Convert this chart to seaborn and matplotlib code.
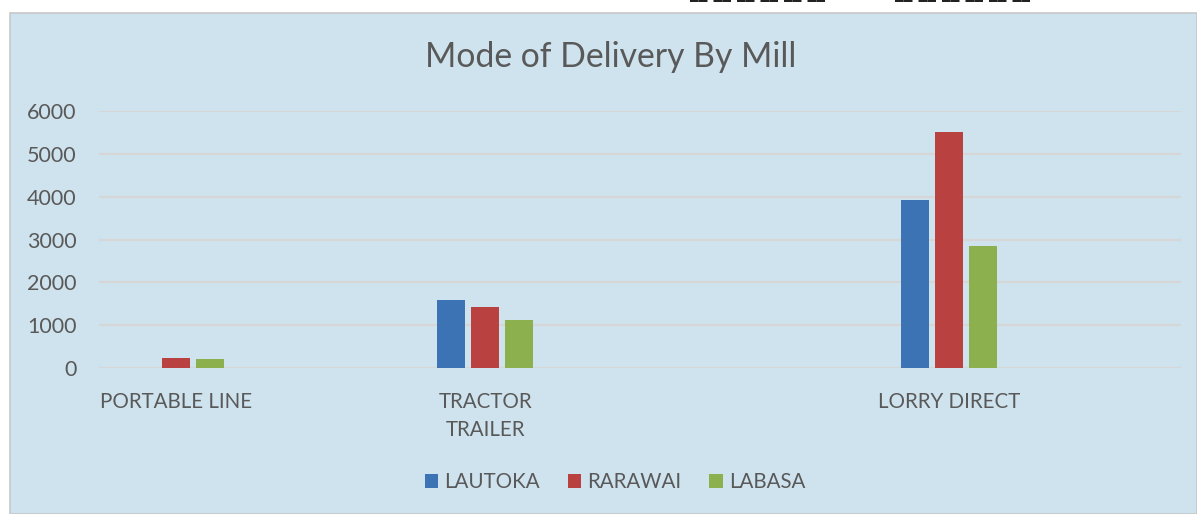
import pandas as pd
import matplotlib.pyplot as plt
import seaborn as sns
from matplotlib.patches import Rectangle

# categorias del grafico (los huecos son columnas vacias de la hoja original)
categorias = ["PORTABLE LINE", " ", "TRACTOR\nTRAILER", "  ", "   ", "LORRY DIRECT", "    "]
lautoka = [0, None, 1580, None, None, 3920, None]
rarawai = [230, None, 1430, None, None, 5500, None]
labasa = [220, None, 1110, None, None, 2850, None]
molinos = ["LAUTOKA", "RARAWAI", "LABASA"]
colores = ["#3b73b5", "#b9413f", "#8db04e"]
y_ticks = [0, 1000, 2000, 3000, 4000, 5000, 6000]

gris = "#595959"
fondo = "#cfe3ee"

# Tabla larga para seaborn
filas = []
for molino, valores in zip(molinos, [lautoka, rarawai, labasa]):
    for cat, v in zip(categorias, valores):
        filas.append({"categoria": cat, "molino": molino, "valor": v})
df = pd.DataFrame(filas)

sns.set_style("white")
plt.rcParams["font.family"] = ["Lato", "DejaVu Sans"]

fig = plt.figure(figsize=(11.97, 5.14), dpi=100)
fig.patch.set_facecolor("white")

# Area del grafico
fig.patches.append(Rectangle((10 / 1197, 0), 1 - 10 / 1197, 1 - 13 / 514,
                             transform=fig.transFigure, facecolor=fondo,
                             edgecolor="#c8c8c8", linewidth=1.2, zorder=-5))

# trozos de texto arriba (fuera del grafico)
raya = " ".join(["‾‾"] * 6)
for x0 in [690, 895]:
    fig.text(x0 / 1197, 1.0, raya, ha="left", va="top", fontsize=12.5,
             fontweight="bold", color="#222222", family="DejaVu Sans")

ax = fig.add_axes([0.0825, 0.284, 0.904, 0.500])
ax.set_facecolor("none")

sns.barplot(data=df, x="categoria", y="valor", hue="molino", order=categorias,
            hue_order=molinos, palette=colores, width=0.66, gap=0.18,
            linewidth=0, saturation=1, ax=ax)

ax.set_xlim(-0.5, len(categorias) - 0.5)
ax.set_ylim(0, 6000)
ax.set_yticks(y_ticks)
ax.set_yticklabels([str(t) for t in y_ticks])
ax.yaxis.grid(True, color="#d6d6d6", linewidth=1.6)
ax.set_axisbelow(True)
for s in ax.spines.values():
    s.set_visible(False)
ax.tick_params(axis="y", length=0, pad=16, labelsize=15.5, labelcolor=gris)
ax.tick_params(axis="x", length=0, pad=17, labelsize=14.8, labelcolor=gris)
for lbl in ax.get_xticklabels():
    lbl.set_linespacing(1.5)
ax.set_xlabel("")
ax.set_ylabel("")

fig.text(611 / 1197, 1 - 57 / 514, "Mode of Delivery By Mill", ha="center",
         va="center", fontsize=24.3, color=gris)

handles, labels = ax.get_legend_handles_labels()
ax.legend_.remove()
fig.legend(handles, labels, loc="center", bbox_to_anchor=(615 / 1197, 1 - 482 / 514),
           ncol=3, frameon=False, fontsize=14.8, labelcolor=gris,
           handlelength=0.65, handleheight=0.65, handletextpad=0.3,
           columnspacing=1.35)

plt.savefig("out.png", dpi=100)
